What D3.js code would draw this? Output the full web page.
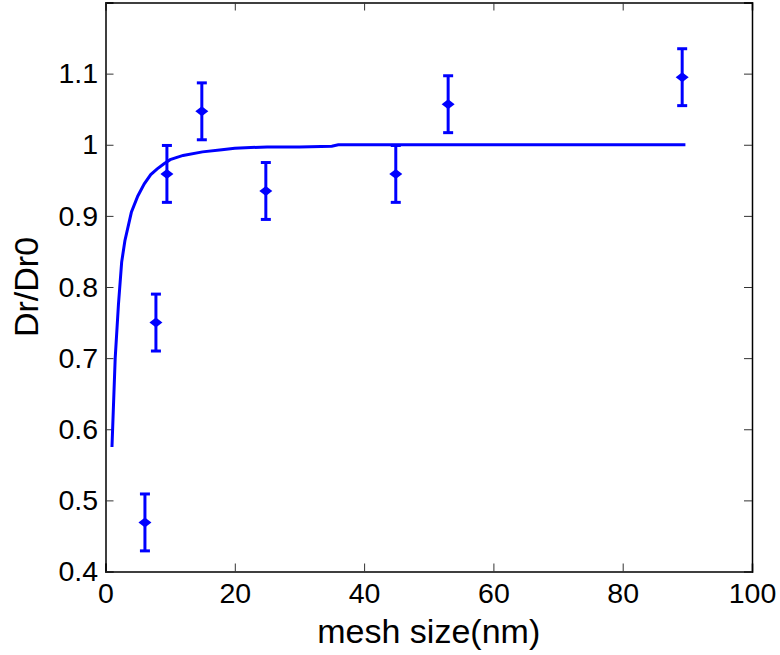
<!DOCTYPE html>
<html>
<head>
<meta charset="utf-8">
<script src="https://cdn.jsdelivr.net/npm/d3@7"></script>
<style>
body { margin: 0; background: #fff; }
text { font-family: "Liberation Sans", Arial, sans-serif; fill: #000; }
</style>
</head>
<body>
<svg id="chart" width="780" height="655"></svg>
<script>
// measured points with error bars
var meshSize = [6.1, 7.8, 9.5, 14.9, 24.8, 44.9, 53.0, 89.2];
var ratio    = [0.469, 0.750, 0.959, 1.047, 0.935, 0.959, 1.057, 1.095];
var errBar   = [0.04, 0.04, 0.04, 0.04, 0.04, 0.04, 0.04, 0.04];

// fitted curve
var fitX = [1, 1.5, 2, 2.5, 3, 4, 5, 6, 7, 8, 9, 10, 12, 15, 18, 20, 25, 30, 35, 36, 50, 70, 89.7];
var fitY = [0.575, 0.70, 0.775, 0.835, 0.865, 0.905, 0.928, 0.945, 0.958, 0.966, 0.973, 0.979, 0.985, 0.990, 0.993, 0.995, 0.997, 0.997, 0.998, 1.0, 1.0, 1.0, 1.0];

var xTicks = [0, 20, 40, 60, 80, 100];
var yTicks = [0.4, 0.5, 0.6, 0.7, 0.8, 0.9, 1, 1.1];

var svg = d3.select("#chart"),
    margin = {top: 2.5, right: 28, bottom: 83.5, left: 105.5},
    width = 780 - margin.left - margin.right,
    height = 655 - margin.top - margin.bottom;

var x = d3.scaleLinear().domain([0, 100]).range([0, width]);
var y = d3.scaleLinear().domain([0.4, 1.2]).range([height, 0]);

var g = svg.append("g")
    .attr("transform", "translate(" + margin.left + "," + margin.top + ")");

// axes (ticks point inward, mirrored on top/right)
var fontSize = "28.5px";
g.append("g")
    .attr("transform", "translate(0," + height + ")")
    .call(d3.axisBottom(x).tickValues(xTicks).tickSize(-8).tickFormat(d3.format("d")))
    .call(function(a) { a.selectAll("text").style("font-size", fontSize).attr("y", 31.5).attr("dy", 0); });
g.append("g")
    .call(d3.axisLeft(y).tickValues(yTicks).tickSize(-8).tickFormat(function(d) { return String(+d.toFixed(1)); }))
    .call(function(a) { a.selectAll("text").style("font-size", fontSize).attr("x", -7.5); });
g.append("g")
    .call(d3.axisTop(x).tickValues(xTicks).tickSize(-8).tickFormat(""));
g.append("g")
    .attr("transform", "translate(" + width + ",0)")
    .call(d3.axisRight(y).tickValues(yTicks).tickSize(-8).tickFormat(""));
g.selectAll(".domain").attr("stroke", "#000").attr("stroke-width", 1.5);
g.selectAll(".tick line").attr("stroke", "#333").attr("stroke-width", 1);

// fitted curve
var line = d3.line()
    .x(function(d, i) { return x(fitX[i]); })
    .y(function(d) { return y(d); });
g.append("path")
    .datum(fitY)
    .attr("fill", "none")
    .attr("stroke", "#0000ff")
    .attr("stroke-width", 3)
    .attr("d", line);

// error bars
var pts = g.append("g").selectAll("g")
    .data(ratio)
    .enter().append("g");
pts.append("line")
    .attr("x1", function(d, i) { return x(meshSize[i]); })
    .attr("x2", function(d, i) { return x(meshSize[i]); })
    .attr("y1", function(d, i) { return y(d - errBar[i]); })
    .attr("y2", function(d, i) { return y(d + errBar[i]); })
    .attr("stroke", "#0000ff").attr("stroke-width", 3);
[-1, 1].forEach(function(s) {
  pts.append("line")
      .attr("x1", function(d, i) { return x(meshSize[i]) - 5; })
      .attr("x2", function(d, i) { return x(meshSize[i]) + 5; })
      .attr("y1", function(d, i) { return y(d + s * errBar[i]); })
      .attr("y2", function(d, i) { return y(d + s * errBar[i]); })
      .attr("stroke", "#0000ff").attr("stroke-width", 3);
});
pts.append("path")
    .attr("transform", function(d, i) { return "translate(" + x(meshSize[i]) + "," + y(d) + ")"; })
    .attr("d", "M-6.5,0 L0,-5 L6.5,0 L0,5 Z")
    .attr("fill", "#0000ff");

// axis labels
svg.append("text")
    .attr("x", margin.left + width / 2)
    .attr("y", 643)
    .attr("text-anchor", "middle")
    .style("font-size", "34px")
    .text("mesh size(nm)");
svg.append("text")
    .attr("transform", "translate(38," + (margin.top + height / 2) + ") rotate(-90)")
    .attr("text-anchor", "middle")
    .style("font-size", "34px")
    .text("Dr/Dr0");
</script>
</body>
</html>
